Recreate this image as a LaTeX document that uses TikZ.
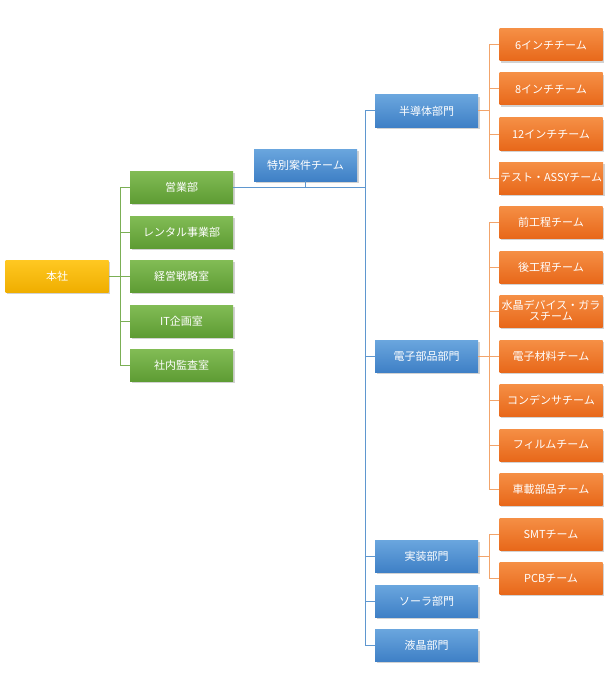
\documentclass[tikz,border=0pt]{standalone}
\usepackage{fontspec}
\setmainfont{Noto Sans CJK JP}
\usetikzlibrary{shadows}
\definecolor{gtop}{HTML}{82BC55}
\definecolor{gbot}{HTML}{5E9C34}
\definecolor{btop}{HTML}{6AA6DE}
\definecolor{bbot}{HTML}{3F80C6}
\definecolor{otop}{HTML}{F58F45}
\definecolor{obot}{HTML}{E8681A}
\definecolor{ytop}{HTML}{FFC822}
\definecolor{ybot}{HTML}{EFAE00}
\definecolor{gline}{HTML}{7BAF55}
\definecolor{bline}{HTML}{5F97CF}
\definecolor{oline}{HTML}{F2A46B}
\begin{document}
\begin{tikzpicture}[x=1pt,y=-1pt,
  box/.style={minimum width=103pt, minimum height=32pt, inner sep=1pt, text=white,
    font=\fontsize{11}{12.5}\selectfont, align=center,
    drop shadow={shadow xshift=1.5pt, shadow yshift=-2pt, opacity=0.35}},
  gbox/.style={box, top color=gtop, bottom color=gbot},
  bbox/.style={box, top color=btop, bottom color=bbot},
  obox/.style={box, top color=otop, bottom color=obot},
  ybox/.style={box, top color=ytop, bottom color=ybot},
  gl/.style={draw=gline, line width=1pt},
  bl/.style={draw=bline, line width=1pt},
  ol/.style={draw=oline, line width=1pt}]
\useasboundingbox (0,0) rectangle (613,690);
\fill[white] (0,0) rectangle (613,690);

\coordinate (t1) at (120,0);
\coordinate (t2) at (365,0);
\coordinate (t3) at (489,0);

\node[ybox] (hq) at (57,276) {本社};

\node[gbox] (g1) at (181.5,187) {営業部};
\node[gbox] (g2) at (181.5,232) {レンタル事業部};
\node[gbox] (g3) at (181.5,276) {経営戦略室};
\node[gbox] (g4) at (181.5,321) {IT企画室};
\node[gbox] (g5) at (181.5,365) {社内監査室};

\node[bbox] (sp) at (305.5,165) {特別案件チーム};

\node[bbox] (b1) at (426.5,111) {半導体部門};
\node[bbox] (b2) at (426.5,356) {電子部品部門};
\node[bbox] (b3) at (426.5,556) {実装部門};
\node[bbox] (b4) at (426.5,601) {ソーラ部門};
\node[bbox] (b5) at (426.5,645) {液晶部門};

\node[obox] (o1) at (551,45) {6インチチーム};
\node[obox] (o2) at (551,89) {8インチチーム};
\node[obox] (o3) at (551,134) {12インチチーム};
\node[obox] (o4) at (551,178) {テスト・ASSYチーム};

\node[obox] (e1) at (551,222) {前工程チーム};
\node[obox] (e2) at (551,267) {後工程チーム};
\node[obox] (e3) at (551,311) {水晶デバイス・ガラ\\[-1.5pt]スチーム};
\node[obox] (e4) at (551,356) {電子材料チーム};
\node[obox] (e5) at (551,400) {コンデンサチーム};
\node[obox] (e6) at (551,445) {フィルムチーム};
\node[obox] (e7) at (551,489) {車載部品チーム};

\node[obox] (s1) at (551,534) {SMTチーム};
\node[obox] (s2) at (551,578) {PCBチーム};

% green connectors
\draw[gl] (hq.east) -- (hq.east -| t1);
\draw[gl] (t1 |- g1.west) -- (t1 |- g5.west);
\foreach \n in {g1,g2,g3,g4,g5} \draw[gl] (t1 |- \n.west) -- (\n.west);

% blue connectors
\draw[bl] (g1.east) -- (g1.east -| t2);
\draw[bl] (sp.south) -- (sp.south |- g1.east);
\draw[bl] (t2 |- b1.west) -- (t2 |- b5.west);
\foreach \n in {b1,b2,b3,b4,b5} \draw[bl] (t2 |- \n.west) -- (\n.west);

% orange connectors
\draw[ol] (b1.east) -- (b1.east -| t3);
\draw[ol] (t3 |- o1.west) -- (t3 |- o4.west);
\foreach \n in {o1,o2,o3,o4} \draw[ol] (t3 |- \n.west) -- (\n.west);

\draw[ol] (b2.east) -- (b2.east -| t3);
\draw[ol] (t3 |- e1.west) -- (t3 |- e7.west);
\foreach \n in {e1,e2,e3,e4,e5,e6,e7} \draw[ol] (t3 |- \n.west) -- (\n.west);

\draw[ol] (b3.east) -- (b3.east -| t3);
\draw[ol] (t3 |- s1.west) -- (t3 |- s2.west);
\foreach \n in {s1,s2} \draw[ol] (t3 |- \n.west) -- (\n.west);
\end{tikzpicture}
\end{document}
